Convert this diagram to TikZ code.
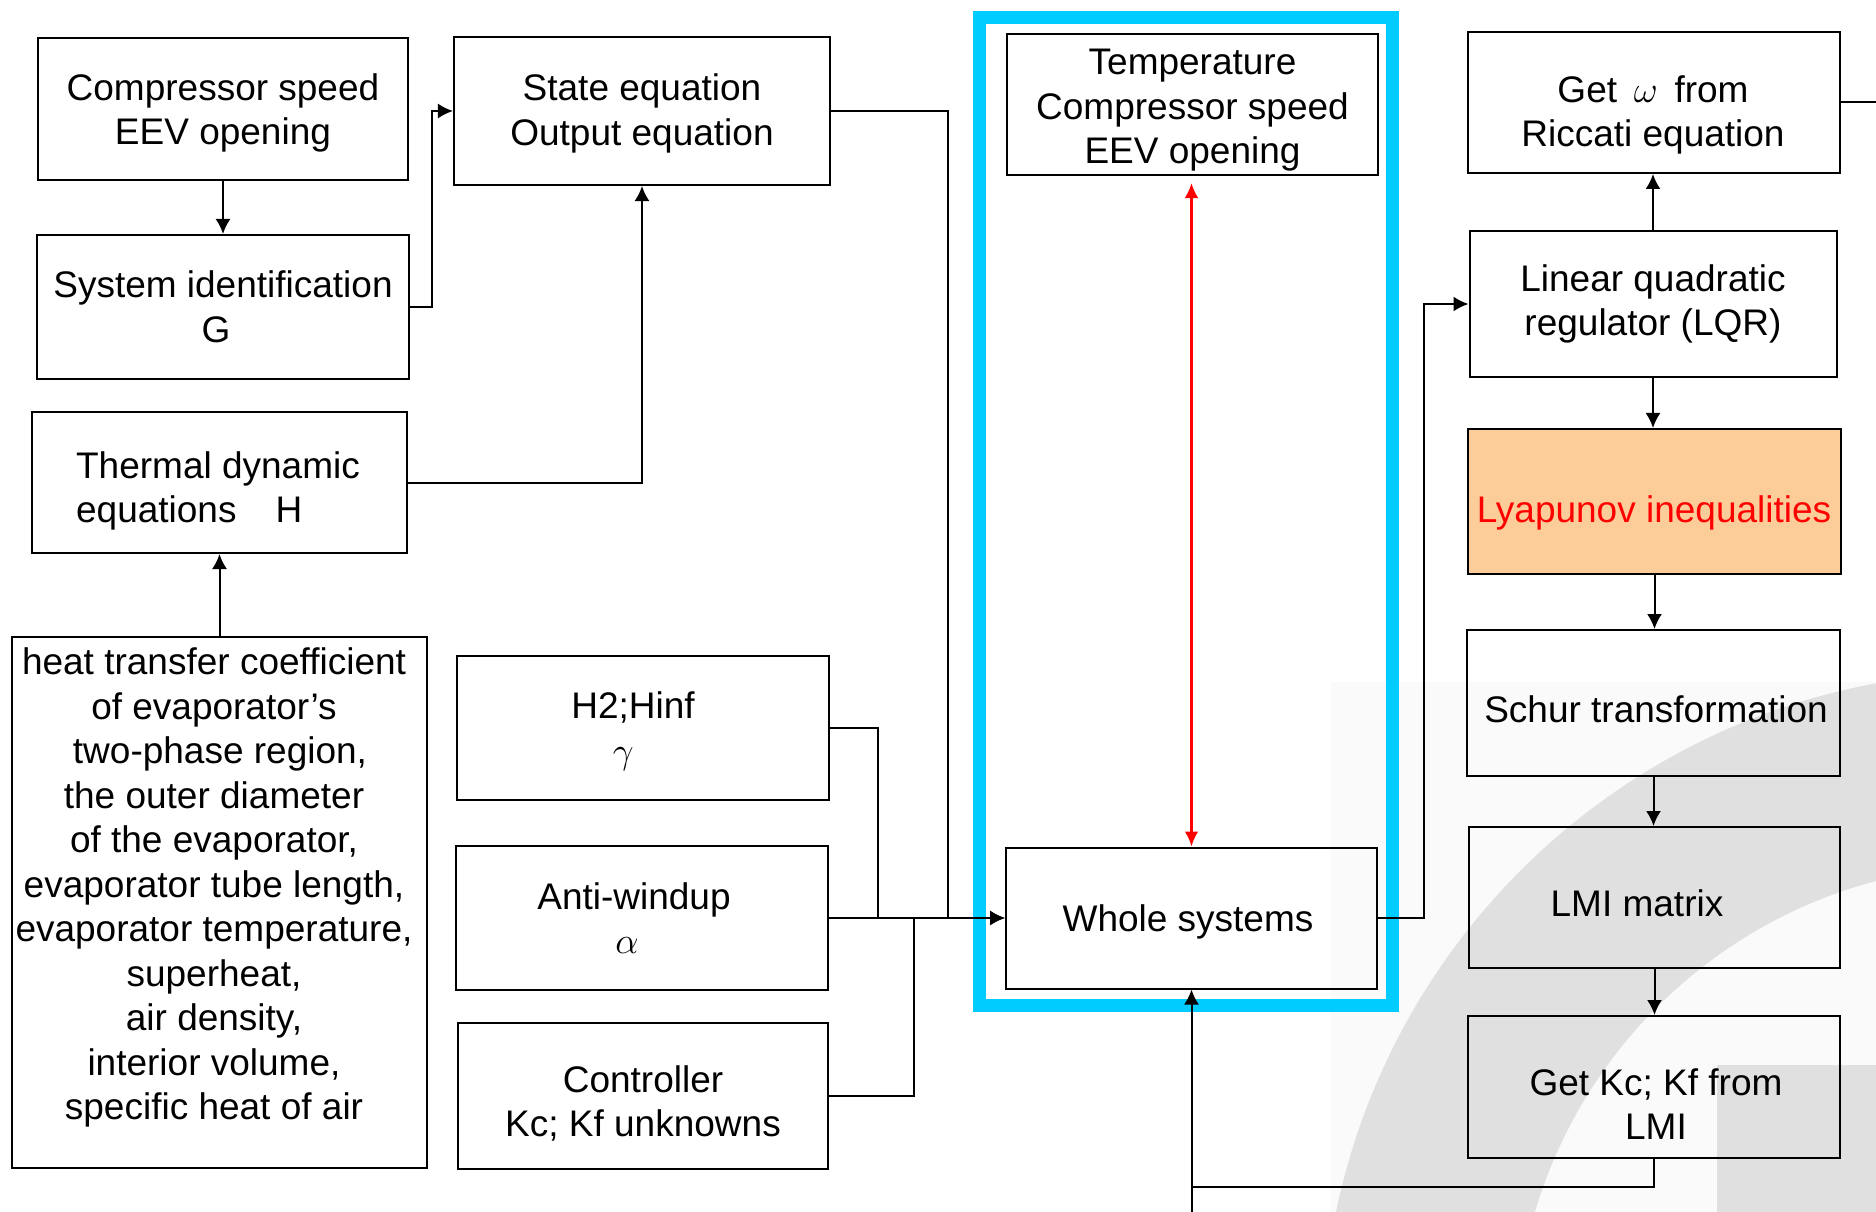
\RequirePackage{fix-cm}
\documentclass[tikz,border=0pt]{standalone}
\usepackage{fontspec}
\setmainfont{Liberation Sans}
\usetikzlibrary{arrows.meta}
\definecolor{cyanbox}{RGB}{0,204,255}
\definecolor{peach}{RGB}{252,204,153}
\definecolor{wmgray}{RGB}{224,224,224}
\definecolor{wmlight}{RGB}{250,250,250}
\begin{document}
\begin{tikzpicture}[x=0.4pt,y=-0.4pt,
  box/.style={draw=black, line width=0.8pt, inner sep=0pt, align=center, font=\fontsize{14.8}{17.8}\selectfont},
  txt/.style={inner sep=0pt, align=center, font=\fontsize{14.8}{17.8}\selectfont},
  conn/.style={line width=0.8pt},
  arr/.style={conn, -{Latex[length=6pt,width=6pt]}}]
\useasboundingbox (0,0) rectangle (1876,1212);
% watermark
\begin{scope}
\clip (0,0) rectangle (1876,1212);
\fill[wmlight] (1331,682) rectangle (1876,1212);
\fill[wmgray, even odd rule] (2000,1350) circle[radius=678] (2000,1350) circle[radius=485];
\fill[wmgray] (1717,1065) rectangle (1876,1212);
\end{scope}
% group frame
\draw[cyanbox, line width=5.2pt] (979,18) rectangle (1392,1005);
% left column
\node[box, minimum width=148pt, minimum height=56.8pt] (comp) at (223,109) {};
\node[txt] (comp-t) at (223,113) {Compressor speed\\EEV opening};
\node[box, minimum width=148.4pt, minimum height=57.6pt] (sysid) at (223,307) {System identification\\G\hspace*{5.6pt}};
\node[box, minimum width=150pt, minimum height=56.4pt] (thermal) at (219.5,482.5) {};
\node[txt, align=left] (thermal-t) at (218,491) {Thermal dynamic\\equations\hspace{15.6pt}H};
\node[box, minimum width=166pt, minimum height=212.4pt] (heat) at (219.5,902.5) {};
\node[txt] (heat-t) at (214,887.5) {heat transfer coefficient\\of evaporator’s\\\hspace*{4.8pt}two-phase region,\\the outer diameter\\of the evaporator,\\evaporator tube length,\\evaporator temperature,\\superheat,\\air density,\\interior volume,\\specific heat of air};
% middle column
\node[box, minimum width=150.4pt, minimum height=59.2pt] (state) at (642,111) {};
\node[txt] (state-t) at (642,113.5) {State equation\\Output equation};
\node[box, minimum width=148.8pt, minimum height=57.6pt] (h2) at (643,728) {};
\node[txt] (h2-t) at (633,731) {H2;Hinf\\$\gamma$\hspace*{7.7pt}};
\node[box, minimum width=148.8pt, minimum height=57.6pt] (anti) at (642,918) {};
\node[txt] (anti-t) at (634,918) {Anti-windup\\$\alpha$\hspace*{5.6pt}};
\node[box, minimum width=148pt, minimum height=58.4pt] (ctrl) at (643,1096) {};
\node[txt] (ctrl-t) at (643,1103.5) {Controller\\Kc; Kf unknowns};
% group column
\node[box, minimum width=148.4pt, minimum height=56.4pt] (temp) at (1192.5,104.5) {};
\node[txt] (temp-t) at (1192.5,110.5) {Temperature\\Compressor speed\\EEV opening};
\node[box, minimum width=148.4pt, minimum height=56.4pt] (whole) at (1191.5,918) {};
\node[txt] (whole-t) at (1188,921.5) {Whole systems};
% right column
\node[box, minimum width=148.8pt, minimum height=56.4pt] (getw) at (1654,102.5) {};
\node[txt] (getw-t) at (1653,115) {Get\hspace{2.6pt} $\omega$\hspace{2.6pt} from\\Riccati equation};
\node[box, minimum width=146.8pt, minimum height=58.4pt] (lqr) at (1653,304) {Linear quadratic\\regulator (LQR)};
\node[box, fill=peach, minimum width=149.2pt, minimum height=58pt] (lyap) at (1654.5,501.5) {};
\node[txt, text=red] (lyap-t) at (1654,513) {Lyapunov inequalities};
\node[box, minimum width=149.2pt, minimum height=58.4pt] (schur) at (1653.5,703) {};
\node[txt] (schur-t) at (1656,709) {Schur transformation};
\node[box, minimum width=148.4pt, minimum height=56.4pt] (lmi) at (1654.5,897.5) {};
\node[txt] (lmi-t) at (1637,903) {LMI matrix};
\node[box, minimum width=148.8pt, minimum height=56.8pt] (getkc) at (1654,1087) {};
\node[txt] (getkc-t) at (1656,1104) {Get Kc; Kf from\\LMI};
% coordinates
\coordinate (jh) at (878,918);
\coordinate (jc) at (914,918);
\coordinate (fb) at (1191.5,1187);
\coordinate (bot) at (1191.5,1212);
\coordinate (out) at (1876,102.5);
% connectors
\draw[arr] (comp.south) -- (sysid.north);
\draw[arr] (sysid.east) -- ++(22,0) |- (state.west);
\draw[arr] (thermal.east) -| (state.south);
\draw[arr] (heat.north) -- (thermal.south);
\draw[arr] (state.east) -- ++(117,0) |- (whole.west);
\draw[conn] (h2.east) -| (jh);
\draw[conn] (ctrl.east) -| (jc);
\draw[arr] (anti.east) -- (whole.west);
\draw[arr] (whole.east) -- ++(46,0) |- (lqr.west);
\draw[arr] (lqr.north) -- (lqr.north |- getw.south);
\draw[conn] (getw.east) -- (out);
\draw[arr] (lqr.south) -- (lqr.south |- lyap.north);
\draw[arr] (lyap.south) -- (lyap.south |- schur.north);
\draw[arr] (schur.south) -- (schur.south |- lmi.north);
\draw[arr] (lmi.south) -- (lmi.south |- getkc.north);
\draw[conn] (getkc.south) |- (fb);
\draw[arr] (bot) -- (whole.south);
\draw[red, line width=1pt, {Latex[length=6pt,width=5.5pt]}-{Latex[length=6pt,width=5.5pt]}, shorten <=2.8pt] (whole.north |- temp.south) -- (whole.north);
\end{tikzpicture}
\end{document}
